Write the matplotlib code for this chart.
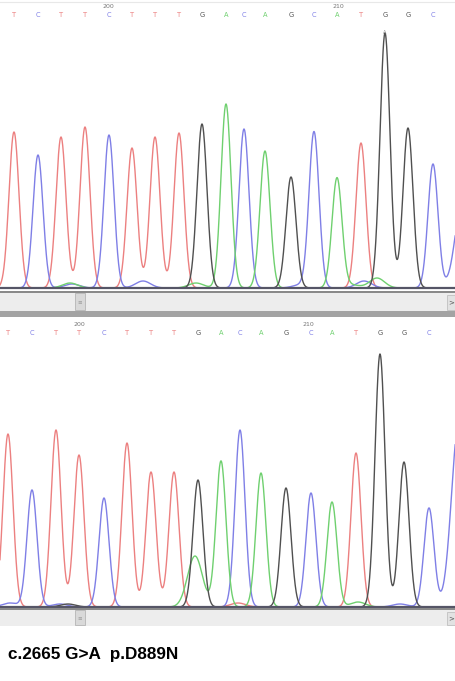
import numpy as np
import matplotlib
matplotlib.use("Agg")
import matplotlib.pyplot as plt
from matplotlib.patches import Rectangle

# base calls (same 19 bases in both reads)
bases = "TCTTCTTTGACAGCATGGC"

# peak positions (scan units) and heights for the normal read (top)
top_pos = [14, 38, 61, 85, 109, 132, 155, 179, 202, 226, 244, 265, 291, 314, 337, 361, 385, 408, 433]
top_height = [156, 133, 151, 161, 153, 140, 151, 155, 164, 184, 159, 137, 111, 156, 110, 145, 255, 160, 124]
# extra / minor peaks: (base, pos, height)
top_extra = [("C", 463, 90), ("A", 70, 5), ("C", 72, 4), ("C", 143, 7), ("A", 196, 5),
             ("C", 364, 7), ("A", 377, 10), ("C", 300, 3), ("A", 352, 3)]
top_ruler = [(108, "200"), (338, "210")]

# patient read (bottom) - heterozygous G>A at the 9th base
bot_pos = [8, 32, 56, 79, 104, 127, 151, 174, 198, 221, 240, 261, 286, 311, 332, 356, 380, 404, 429]
bot_height = [173, 117, 177, 152, 109, 164, 135, 135, 127, 146, 177, 134, 119, 114, 105, 154, 253, 145, 99]
bot_extra = [("A", 195, 51), ("C", 459, 185), ("C", 10, 4), ("C", 60, 3), ("G", 68, 3),
             ("T", 238, 4), ("A", 358, 5), ("C", 400, 3)]
bot_ruler = [(79, "200"), (308, "210")]

colors = {"A": "#6fd06f", "C": "#7f7fe6", "G": "#505050", "T": "#ec8080"}
label_text = "c.2665 G>A  p.D889N"

W, H = 455, 681
fig = plt.figure(figsize=(W / 100, H / 100), dpi=100)


def trace_axes(top_px, bottom_px):
    return fig.add_axes([0, 1 - bottom_px / H, 1, (bottom_px - top_px) / H])


def draw_trace(ax, pos, height, extra, ruler, base_px):
    x = np.linspace(-5, 470, 2400)
    sig = 5.0
    for ch in "TCAG":
        y = np.zeros_like(x)
        for b, p, h in zip(bases, pos, height):
            if b == ch:
                y += h * np.exp(-(x - p) ** 2 / (2 * sig ** 2))
        for b, p, h in extra:
            if b == ch:
                y += h * np.exp(-(x - p) ** 2 / (2 * (sig * 1.5) ** 2))
        ax.plot(x, y, color=colors[ch], lw=1.0, solid_joinstyle="round")
    ax.axhline(0, color="#555566", lw=1.6, zorder=5)
    for b, p in zip(bases, pos):
        ax.text(p, base_px - 15, b, color=colors[b], fontsize=4.8,
                ha="center", va="center", family="DejaVu Sans")
    for p, t in ruler:
        ax.text(p, base_px - 6, t, color="#777777", fontsize=4.5, ha="center", va="center")
    ax.set_xlim(0, W)
    ax.axis("off")


ax1 = trace_axes(0, 291)
ax1.set_ylim(-3, 288)
draw_trace(ax1, top_pos, top_height, top_extra, top_ruler, 288)
ax1.text(385, 288 - 33, "A", color="#888888", fontsize=3.5, ha="center", va="center")
ax1.axhline(286, color="#e8e8e8", lw=0.8)

ax2 = trace_axes(318, 609)
ax2.set_ylim(-2, 289)
draw_trace(ax2, bot_pos, bot_height, bot_extra, bot_ruler, 607 - 318)
ax2.set_ylim(-2, 289)

# window chrome (scroll bars) in pixel coordinates
ov = fig.add_axes([0, 0, 1, 1], zorder=10)
ov.set_xlim(0, W)
ov.set_ylim(H, 0)
ov.axis("off")


def scrollbar(y0, y1, dark_band):
    ov.add_patch(Rectangle((0, y0 - 1), W, 2, color="#8a8a8a", lw=0))
    ov.add_patch(Rectangle((0, y0 + 1), W, y1 - y0 - 1, color="#ededed", lw=0))
    ov.add_patch(Rectangle((75, y0 + 1), 10, y1 - y0 - 2, facecolor="#d9d9d9",
                           edgecolor="#b5b5b5", lw=0.6))
    ov.text(80, (y0 + y1) / 2, "≡", color="#9a9a9a", fontsize=4, ha="center", va="center")
    ov.add_patch(Rectangle((447, y0 + 3), 8, y1 - y0 - 4, facecolor="#e2e2e2",
                           edgecolor="#c0c0c0", lw=0.6))
    ov.text(451, (y0 + y1) / 2 + 1, ">", color="#555555", fontsize=5, ha="center", va="center")
    if dark_band:
        ov.add_patch(Rectangle((0, y1), W, 6, color="#a3a3a3", lw=0))


scrollbar(292, 311, True)
scrollbar(609, 626, False)

ov.text(8, 655, label_text, fontsize=12.3, fontweight="bold", family="Liberation Sans",
        ha="left", va="center", color="black")

fig.savefig("out.png", dpi=100, facecolor="white")
